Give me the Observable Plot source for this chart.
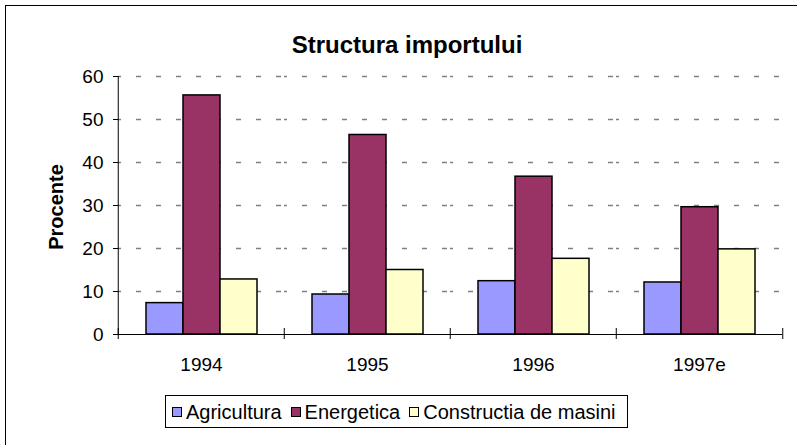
<!DOCTYPE html>
<html>
<head>
<meta charset="utf-8">
<script src="https://cdn.jsdelivr.net/npm/d3@7"></script>
<script src="https://cdn.jsdelivr.net/npm/@observablehq/plot@0.6"></script>
<style>
  html, body { margin: 0; padding: 0; background: #fff; }
  #wrap { position: relative; width: 797px; height: 445px; overflow: hidden; font-family: Arial, "Liberation Sans", sans-serif; color: #000; }
  #border { position: absolute; left: 5px; top: 5px; width: 1000px; height: 800px; border-left: 1px solid #000; border-top: 1px solid #000; box-sizing: border-box; }
  #chart { position: absolute; left: 0; top: 0; }
  #title { position: absolute; left: 0; width: 814px; top: 33px; text-align: center; font-weight: bold; font-size: 24px; line-height: 24px; }
  #ylabel { position: absolute; left: 55.5px; top: 206.5px; transform: translate(-50%, -50%) rotate(-90deg); font-weight: bold; font-size: 20px; line-height: 20px; white-space: nowrap; }
  #legend { position: absolute; left: 165px; top: 395px; width: 463px; height: 33px; border: 1px solid #000; box-sizing: border-box; background: #fff; display: flex; align-items: center; padding-left: 6px; font-size: 20px; line-height: 20px; white-space: nowrap; }
  .item { display: flex; align-items: center; margin-right: 9px; }
  .sw { width: 10px; height: 10px; border: 1.5px solid #000; box-sizing: border-box; margin-right: 4px; }
</style>
</head>
<body>
<div id="wrap">
  <div id="border"></div>
  <div id="chart"></div>
  <div id="title"></div>
  <div id="ylabel"></div>
  <div id="legend"></div>
</div>
<script>
const titleText = "Structura importului";
const yLabelText = "Procente";
const years = ["1994", "1995", "1996", "1997e"];
const seriesNames = ["Agricultura", "Energetica", "Constructia de masini"];
const agricultura = [7.3, 9.3, 12.4, 12.1];
const energetica = [55.6, 46.4, 36.7, 29.6];
const constructia = [12.8, 15.0, 17.6, 19.8];
const seriesColors = ["#9999FF", "#993366", "#FFFFCC"];
const yTicks = [0, 10, 20, 30, 40, 50, 60];

const seriesValues = [agricultura, energetica, constructia];
const rows = years.flatMap((year, i) =>
  seriesNames.map((s, k) => ({year, series: s, value: seriesValues[k][i]}))
);

const W = 797, H = 445, ML = 117, MR = 14, MT = 76, MB = 111;
const facetHalf = (W - ML - MR) / years.length / 2;

const chart = Plot.plot({
  width: W, height: H,
  marginLeft: ML, marginRight: MR, marginTop: MT, marginBottom: MB,
  style: {fontFamily: "Arial, 'Liberation Sans', sans-serif", background: "transparent", color: "black"},
  fx: {domain: years, padding: 0, label: null},
  x: {domain: seriesNames, paddingInner: 0, paddingOuter: 0.732, axis: null},
  y: {domain: [0, 60]},
  color: {domain: seriesNames, range: seriesColors},
  marks: [
    Plot.ruleY(yTicks.filter(d => d > 0), {stroke: "#808080", strokeWidth: 1.5, strokeDasharray: "5,15", strokeDashoffset: 2}),
    Plot.barY(rows, {fx: "year", x: "series", y: "value", fill: "series", stroke: "black", strokeWidth: 1.5}),
    Plot.ruleY([0], {stroke: "black", strokeWidth: 1}),
    Plot.ruleX(years.slice(0, 1), {fx: d => d, x: null, dx: -facetHalf, y1: 0, y2: 60, stroke: "black", strokeWidth: 1}),
    Plot.ruleX(years, {fx: d => d, x: null, dx: -facetHalf, y1: 0, y2: 0, insetTop: 5, insetBottom: 6, stroke: "black", strokeWidth: 1}),
    Plot.ruleX(years.slice(-1), {fx: d => d, x: null, dx: facetHalf, y1: 0, y2: 0, insetTop: 5, insetBottom: 6, stroke: "black", strokeWidth: 1}),
    Plot.axisY(yTicks, {tickSize: 5, tickPadding: 10, fontSize: 19, label: null, color: "black"}),
    Plot.axisFx({anchor: "bottom", tickSize: 0, tickPadding: 23, fontSize: 19, label: null, color: "black"})
  ]
});
document.getElementById("chart").appendChild(chart);

document.getElementById("title").textContent = titleText;
document.getElementById("ylabel").textContent = yLabelText;
const legend = document.getElementById("legend");
seriesNames.forEach((name, k) => {
  const item = document.createElement("div");
  item.className = "item";
  const sw = document.createElement("div");
  sw.className = "sw";
  sw.style.background = seriesColors[k];
  const label = document.createElement("span");
  label.textContent = name;
  item.appendChild(sw);
  item.appendChild(label);
  legend.appendChild(item);
});
</script>
</body>
</html>
